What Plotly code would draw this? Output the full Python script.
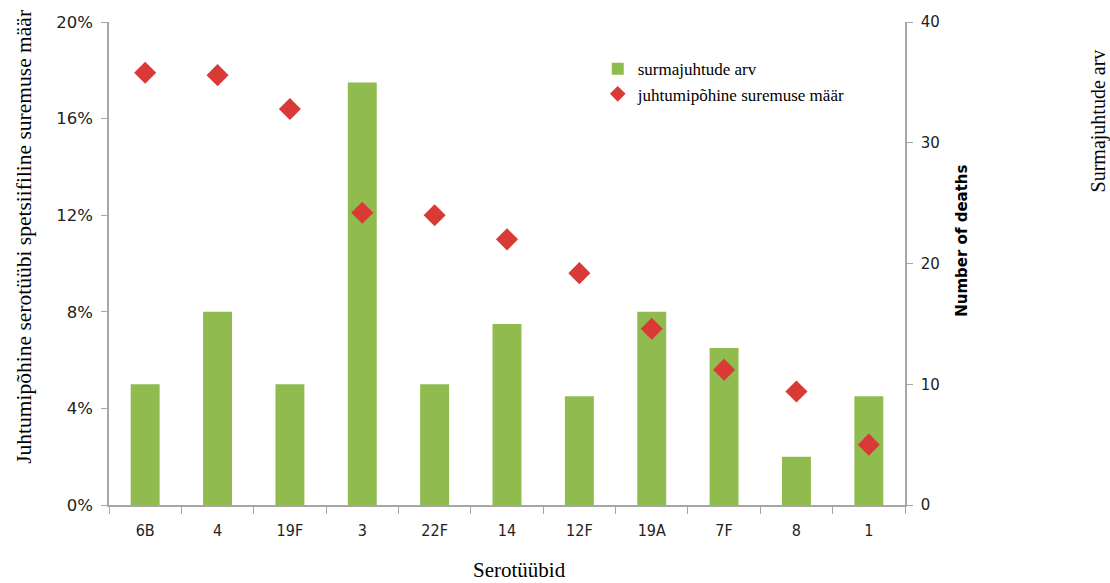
import plotly.graph_objects as go

categories = ["6B", "4", "19F", "3", "22F", "14", "12F", "19A", "7F", "8", "1"]
deaths = [10, 16, 10, 35, 10, 15, 9, 16, 13, 4, 9]
fatality_pct = [17.9, 17.8, 16.4, 12.1, 12.0, 11.0, 9.6, 7.3, 5.6, 4.7, 2.5]
pct_ticks = [0, 4, 8, 12, 16, 20]
pct_labels = ["0%", "4%", "8%", "12%", "16%", "20%"]
count_ticks = [0, 10, 20, 30, 40]

axis_grey = "#a6a6a6"
tick_col = "#222222"

fig = go.Figure()
fig.add_trace(go.Bar(
    x=categories, y=deaths, name="surmajuhtude arv",
    marker=dict(color="#8fbb4f", line=dict(width=0)),
    width=0.4, yaxis="y",
))
fig.add_trace(go.Scatter(
    x=categories, y=fatality_pct, name="juhtumipõhine suremuse määr",
    mode="markers", marker=dict(symbol="diamond", size=17, color="#d93a36"),
    yaxis="y2",
))

fig.update_layout(
    width=1110, height=583,
    margin=dict(l=109, r=205, t=22, b=78, autoexpand=False),
    plot_bgcolor="white", paper_bgcolor="white",
    showlegend=True,
    legend=dict(x=0.614, y=0.9395, xanchor="left", yanchor="top",
                font=dict(family="Liberation Serif", size=17, color="#000000"),
                bgcolor="rgba(0,0,0,0)", tracegroupgap=0, itemwidth=30,
                itemsizing="constant"),
    xaxis=dict(
        type="category", range=[-0.5, len(categories) - 0.5],
        showline=True, linecolor=axis_grey, linewidth=1.5,
        ticks="outside", tickson="boundaries", ticklen=7, tickcolor=axis_grey,
        tickfont=dict(family="DejaVu Sans Condensed", size=16, color=tick_col),
        ticklabelstandoff=10,
        showgrid=False, zeroline=False, automargin=False,
    ),
    yaxis=dict(
        side="right", range=[0, 40], tickvals=count_ticks,
        showline=True, linecolor=axis_grey, linewidth=1.5,
        ticks="outside", ticklen=6, tickcolor=axis_grey,
        tickfont=dict(family="DejaVu Sans", size=15, color=tick_col),
        ticklabelstandoff=5,
        showgrid=False, zeroline=False, automargin=False,
    ),
    yaxis2=dict(
        side="left", overlaying="y", range=[0, 20],
        tickvals=pct_ticks, ticktext=pct_labels,
        showline=True, linecolor=axis_grey, linewidth=1.5,
        ticks="outside", ticklen=6, tickcolor=axis_grey,
        tickfont=dict(family="DejaVu Sans", size=16.5, color=tick_col),
        ticklabelstandoff=5,
        showgrid=False, zeroline=False, automargin=False,
    ),
    annotations=[
        dict(text="Juhtumipõhine serotüübi spetsiifiline suremuse määr",
             xref="paper", yref="paper", x=-0.107, y=0.555, xanchor="center", yanchor="middle",
             textangle=-90, showarrow=False,
             font=dict(family="Liberation Serif", size=21.5, color="#000000")),
        dict(text="<b>Number of deaths</b>",
             xref="paper", yref="paper", x=1.0716, y=0.547, xanchor="center", yanchor="middle",
             textangle=-90, showarrow=False,
             font=dict(family="DejaVu Sans", size=15, color="#000000")),
        dict(text="Surmajuhtude arv",
             xref="paper", yref="paper", x=1.243, y=0.795, xanchor="center", yanchor="middle",
             textangle=-90, showarrow=False,
             font=dict(family="Liberation Serif", size=20, color="#000000")),
        dict(text="Serotüübid",
             xref="paper", yref="paper", x=0.516, y=-0.135, xanchor="center", yanchor="middle",
             showarrow=False,
             font=dict(family="Liberation Serif", size=21, color="#000000")),
    ],
)

fig.write_html("out.html", config={"displayModeBar": False},
               post_script="document.body.style.margin='0';document.body.style.padding='0';")
